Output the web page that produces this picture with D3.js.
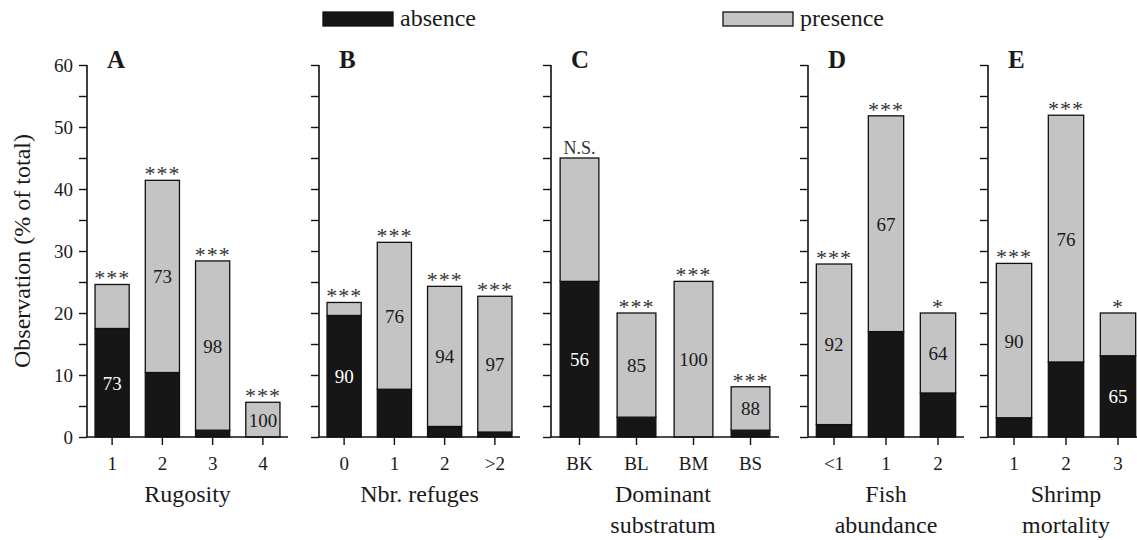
<!DOCTYPE html>
<html>
<head>
<meta charset="utf-8">
<script src="https://cdn.jsdelivr.net/npm/d3@7"></script>
<style>
html,body{margin:0;padding:0;background:#fff;}
svg{display:block;}
svg text{font-family:"Liberation Serif","Tinos","Times New Roman","DejaVu Serif",serif !important;fill:#1a1a1a;}
</style>
</head>
<body>
<svg id="chart" width="1137" height="540"></svg>
<script>
// ---------- data ----------
const panelLetters = ["A", "B", "C", "D", "E"];
const panelTitles = [["Rugosity"], ["Nbr. refuges"], ["Dominant", "substratum"], ["Fish", "abundance"], ["Shrimp", "mortality"]];

const catsA = ["1", "2", "3", "4"];
const absenceA = [17.5, 10.4, 1.1, 0];
const presenceA = [7.1, 31.0, 27.3, 5.6];
const labelA = ["73", "73", "98", "100"];
const labelSegA = ["absence", "presence", "presence", "presence"];
const sigA = ["***", "***", "***", "***"];

const catsB = ["0", "1", "2", ">2"];
const absenceB = [19.6, 7.7, 1.7, 0.8];
const presenceB = [2.1, 23.7, 22.6, 21.9];
const labelB = ["90", "76", "94", "97"];
const labelSegB = ["absence", "presence", "presence", "presence"];
const sigB = ["***", "***", "***", "***"];

const catsC = ["BK", "BL", "BM", "BS"];
const absenceC = [25.1, 3.2, 0, 1.1];
const presenceC = [19.9, 16.8, 25.1, 7.0];
const labelC = ["56", "85", "100", "88"];
const labelSegC = ["absence", "presence", "presence", "presence"];
const sigC = ["N.S.", "***", "***", "***"];

const catsD = ["<1", "1", "2"];
const absenceD = [2.0, 17.0, 7.1];
const presenceD = [25.9, 34.8, 12.9];
const labelD = ["92", "67", "64"];
const labelSegD = ["presence", "presence", "presence"];
const sigD = ["***", "***", "*"];

const catsE = ["1", "2", "3"];
const absenceE = [3.1, 12.1, 13.1];
const presenceE = [24.9, 39.8, 6.9];
const labelE = ["90", "76", "65"];
const labelSegE = ["presence", "presence", "absence"];
const sigE = ["***", "***", "*"];

const yTicks = [0, 10, 20, 30, 40, 50, 60];
const yMinorTicks = [0, 5, 10, 15, 20, 25, 30, 35, 40, 45, 50, 55, 60];
const seriesKeys = ["absence", "presence"];
const yTitle = "Observation (% of total)";

// ---------- layout ----------
const FONT = '"Liberation Serif","Tinos","Times New Roman","DejaVu Serif",serif';
const panels = [
  {cats: catsA, abs: absenceA, pres: presenceA, lab: labelA, seg: labelSegA, sig: sigA, x0: 87, x1: 288},
  {cats: catsB, abs: absenceB, pres: presenceB, lab: labelB, seg: labelSegB, sig: sigB, x0: 319, x1: 520},
  {cats: catsC, abs: absenceC, pres: presenceC, lab: labelC, seg: labelSegC, sig: sigC, x0: 551, x1: 779},
  {cats: catsD, abs: absenceD, pres: presenceD, lab: labelD, seg: labelSegD, sig: sigD, x0: 808, x1: 964},
  {cats: catsE, abs: absenceE, pres: presenceE, lab: labelE, seg: labelSegE, sig: sigE, x0: 988, x1: 1144}
];
const colors = {absence: "#161616", presence: "#c4c4c4"};

const svg = d3.select("#chart").attr("font-family", FONT);
const y = d3.scaleLinear().domain([0, 60]).range([437, 65]);
const stack = d3.stack().keys(seriesKeys);

panels.forEach((p, pi) => {
  const x = d3.scaleBand().domain(p.cats).range([p.x0, p.x1]).paddingInner(0.32).paddingOuter(0.16);
  const rows = p.cats.map((c, i) => ({cat: c, absence: p.abs[i], presence: p.pres[i]}));
  const series = stack(rows);
  const g = svg.append("g");

  // bars
  series.forEach(s => {
    g.selectAll(null).data(s).enter().append("rect")
      .attr("x", d => x(d.data.cat))
      .attr("width", x.bandwidth())
      .attr("y", d => y(d[1]))
      .attr("height", d => Math.max(0, y(d[0]) - y(d[1])))
      .attr("fill", colors[s.key])
      .attr("stroke", d => (d[1] - d[0]) > 0 ? "#111" : "none")
      .attr("stroke-width", 1.3);
  });

  // value labels inside segments
  rows.forEach((r, i) => {
    const segKey = p.seg[i];
    const lo = segKey === "absence" ? 0 : r.absence;
    const hi = segKey === "absence" ? r.absence : r.absence + r.presence;
    g.append("text")
      .attr("x", x(r.cat) + x.bandwidth() / 2)
      .attr("y", y((lo + hi) / 2) + 7)
      .attr("text-anchor", "middle")
      .attr("font-size", 19)
      .style("fill", segKey === "absence" ? "#fff" : "#1a1a1a")
      .text(p.lab[i]);
    // significance
    const isStar = p.sig[i].indexOf("*") >= 0;
    g.append("text")
      .attr("x", x(r.cat) + x.bandwidth() / 2)
      .attr("y", y(r.absence + r.presence) + (isStar ? 1 : -4))
      .attr("text-anchor", "middle")
      .attr("font-size", isStar ? 22 : 18)
      .attr("letter-spacing", isStar ? 1 : 0)
      .style("fill", "#333")
      .text(p.sig[i]);
  });

  // y axis (major + minor ticks)
  const yAxis = d3.axisLeft(y).tickValues(yMinorTicks).tickSize(8)
    .tickFormat(d => (pi === 0 && yTicks.includes(d)) ? d : "");
  const ya = g.append("g").attr("transform", `translate(${p.x0},0)`).call(yAxis).attr("font-family", FONT);
  ya.select(".domain").attr("d", `M0,${y(60)}V${y(0)}`).attr("stroke", "#111").attr("stroke-width", 1.6);
  ya.selectAll(".tick line").attr("stroke", "#111").attr("stroke-width", 1.4);
  ya.selectAll(".tick text").attr("font-size", 19).attr("x", -14).attr("dy", "0.36em").style("fill", "#1a1a1a");

  // x axis
  const xAxis = d3.axisBottom(x).tickSize(8).tickSizeOuter(0);
  const xa = g.append("g").attr("transform", `translate(0,${y(0)})`).call(xAxis).attr("font-family", FONT);
  xa.select(".domain").attr("d", `M${p.x0},0H${p.x1}`).attr("stroke", "#111").attr("stroke-width", 1.6);
  xa.selectAll(".tick line").attr("stroke", "#111").attr("stroke-width", 1.4);
  xa.selectAll(".tick text").attr("font-size", 19).attr("y", 20).attr("dy", "0.71em").style("fill", "#1a1a1a");

  // panel letter
  g.append("text")
    .attr("x", p.x0 + 20)
    .attr("y", 68)
    .attr("font-size", 25)
    .attr("font-weight", "bold")
    .text(panelLetters[pi]);

  // panel title
  const tcx = pi === 4 ? (x(p.cats[0]) + x(p.cats[p.cats.length - 1]) + x.bandwidth()) / 2 : (p.x0 + p.x1) / 2;
  panelTitles[pi].forEach((t, li) => {
    g.append("text")
      .attr("x", pi === 2 ? tcx - 2 : tcx)
      .attr("y", 502 + li * 31)
      .attr("text-anchor", "middle")
      .attr("font-size", 24)
      .text(t);
  });
});

// y title
svg.append("text")
  .attr("transform", `translate(30,${(y(0) + y(60)) / 2}) rotate(-90)`)
  .attr("text-anchor", "middle")
  .attr("font-size", 24)
  .text(yTitle);

// legend
const legendItems = [{key: "absence", x: 323}, {key: "presence", x: 723}];
legendItems.forEach(l => {
  svg.append("rect").attr("x", l.x).attr("y", 12).attr("width", 70).attr("height", 14)
    .attr("fill", colors[l.key]).attr("stroke", "#111").attr("stroke-width", 1.3);
  svg.append("text").attr("x", l.x + 77).attr("y", 26).attr("font-size", 24).text(l.key);
});
</script>
</body>
</html>
